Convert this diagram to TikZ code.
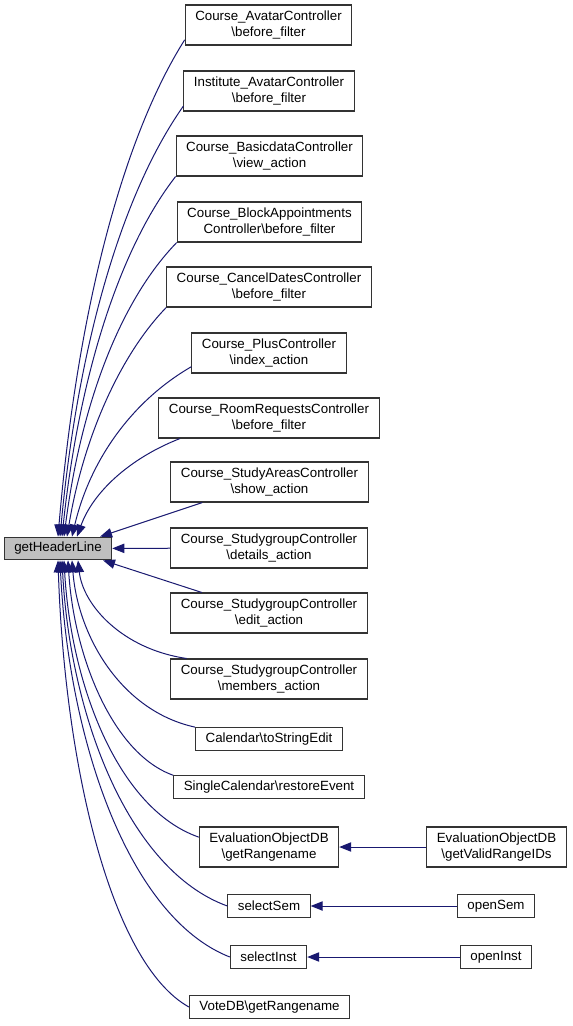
\documentclass[tikz,border=0pt]{standalone}
\usepackage{fontspec}
\setmainfont{Liberation Sans}
\usetikzlibrary{arrows.meta,calc}
\definecolor{edgeblue}{HTML}{191970}
\definecolor{focusgray}{HTML}{BFBFBF}
\begin{document}
\begin{tikzpicture}[
        x=0.75pt, y=-0.75pt,
        fn/.style={
            draw=black!80,
            line width=0.8pt,
            fill=white,
            align=center,
            inner xsep=7.5pt,
            inner ysep=2pt,
            minimum height=17pt,
            font=\fontsize{10}{12}\selectfont
        },
        twoline/.style={minimum height=30pt},
        focus/.style={fn, fill=focusgray},
        call/.style={draw=edgeblue, line width=0.75pt, -{Triangle[length=9pt, width=7pt]}}
    ]
    \useasboundingbox (0,0) rectangle (572,1026);

    % =========================
    % Function of interest
    % =========================
    \node[focus] (hl) at (58,548.5) {getHeaderLine};

    % =========================
    % Direct callers
    % =========================
    \node[fn, twoline] (c1)  at (268.5,25)  {Course\_AvatarController\\\textbackslash before\_filter};
    \node[fn, twoline] (c2)  at (269,91)    {Institute\_AvatarController\\\textbackslash before\_filter};
    \node[fn, twoline] (c3)  at (269.5,156) {Course\_BasicdataController\\\textbackslash view\_action};
    \node[fn, twoline] (c4)  at (269.5,222) {Course\_BlockAppointments\\Controller\textbackslash before\_filter};
    \node[fn, twoline] (c5)  at (269,287)   {Course\_CancelDatesController\\\textbackslash before\_filter};
    \node[fn, twoline] (c6)  at (269,353)   {Course\_PlusController\\\textbackslash index\_action};
    \node[fn, twoline] (c7)  at (269,418)   {Course\_RoomRequestsController\\\textbackslash before\_filter};
    \node[fn, twoline] (c8)  at (269.5,482) {Course\_StudyAreasController\\\textbackslash show\_action};
    \node[fn, twoline] (c9)  at (269,548)   {Course\_StudygroupController\\\textbackslash details\_action};
    \node[fn, twoline] (c10) at (269,613)   {Course\_StudygroupController\\\textbackslash edit\_action};
    \node[fn, twoline] (c11) at (269,679)   {Course\_StudygroupController\\\textbackslash members\_action};
    \node[fn]          (c12) at (269,739)   {Calendar\textbackslash toStringEdit};
    \node[fn]          (c13) at (269,787)   {SingleCalendar\textbackslash restoreEvent};
    \node[fn, twoline] (c14) at (269,847)   {EvaluationObjectDB\\\textbackslash getRangename};
    \node[fn]          (c15) at (269,906)   {selectSem};
    \node[fn]          (c16) at (268.5,957) {selectInst};
    \node[fn]          (c17) at (269.5,1007) {VoteDB\textbackslash getRangename};

    % =========================
    % Second level callers
    % =========================
    \node[fn, twoline] (r14) at (496.5,847) {EvaluationObjectDB\\\textbackslash getValidRangeIDs};
    \node[fn]          (r15) at (496,906)   {openSem};
    \node[fn]          (r16) at (496,957)   {openInst};

    % =========================
    % Calls from above
    % =========================
    \draw[call] (c1.190) .. controls (122,139) and (77,313) .. ($(hl.north)+(0,0)$);
    \draw[call] (c2.190) .. controls (122,193) and (78,344) .. ($(hl.north)+(2,0)$);
    \draw[call] (c3.south west) .. controls (120,248) and (79,375) .. ($(hl.north)+(4,0)$);
    \draw[call] (c4.south west) .. controls (120,301) and (81,404) .. ($(hl.north)+(6,0)$);
    \draw[call] (c5.south west) .. controls (122,353) and (84,434) .. ($(hl.north)+(9,0)$);
    \draw[call] (c6.190) .. controls (132,401) and (90,460) .. ($(hl.north)+(14,0)$);
    \draw[call] (c7.193) .. controls (130,458) and (93,492) .. ($(hl.north)+(19,0)$);
    \draw[call] (c8.197) -- ($(hl.north)+(42,0)$);

    % =========================
    % Calls from the side and below
    % =========================
    \draw[call] (c9) -- (hl);
    \draw[call] (c10.163) -- ($(hl.south)+(45,0)$);
    \draw[call] (c11.166) .. controls (122,649) and (83,605) .. ($(hl.south)+(20,0)$);
    \draw[call] (c12.north west) .. controls (121,711) and (78,636) .. ($(hl.south)+(14,0)$);
    \draw[call] (c13.173) .. controls (113,754) and (74,657) .. ($(hl.south)+(10,0)$);
    \draw[call] (c14.172) .. controls (118,809) and (71,685) .. ($(hl.south)+(6,0)$);
    \draw[call] (c15.west) .. controls (128,870) and (70,715) .. ($(hl.south)+(4,0)$);
    \draw[call] (c16.west) .. controls (128,917) and (68.5,739) .. ($(hl.south)+(2,0)$);
    \draw[call] (c17.west) .. controls (110,963) and (64.5,762) .. ($(hl.south)+(0,0)$);

    % =========================
    % Second level calls
    % =========================
    \draw[call] (r14) -- (c14);
    \draw[call] (r15) -- (c15);
    \draw[call] (r16) -- (c16);

\end{tikzpicture}
\end{document}
